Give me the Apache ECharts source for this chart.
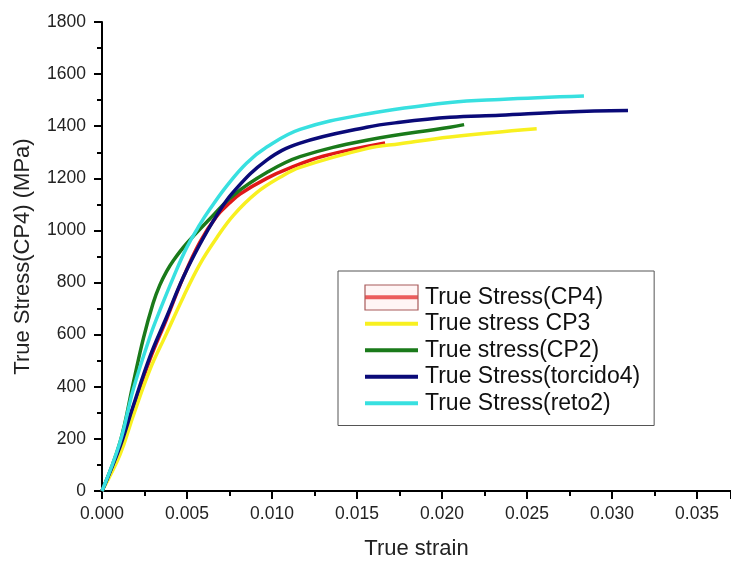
<!DOCTYPE html>
<html>
<head>
<meta charset="utf-8">
<script src="https://cdn.jsdelivr.net/npm/echarts@6/dist/echarts.min.js"></script>
<style>
    html, body { margin: 0; padding: 0; background: #fff; }
    #chart { width: 731px; height: 565px; }
</style>
</head>
<body>
<div id="chart"></div>
<script>
    // [strain, stress MPa]
    const cp4 = [[0, 0], [0.00106, 165], [0.00184, 320], [0.00282, 505], [0.0038, 660], [0.00478, 820],
        [0.00576, 955], [0.00675, 1055], [0.0075, 1105], [0.00812, 1140], [0.00969, 1200], [0.01106, 1240],
        [0.013, 1285], [0.01665, 1336]];
    const cp3 = [[0, 0], [0.00106, 140], [0.00184, 289], [0.00282, 466], [0.0038, 605], [0.00478, 744],
        [0.00576, 871], [0.00675, 972], [0.00773, 1058], [0.0091, 1145], [0.0105, 1205], [0.01165, 1242],
        [0.01557, 1314], [0.01753, 1333], [0.02047, 1359], [0.02557, 1390]];
    const cp2 = [[0, 0], [0.00106, 187], [0.00184, 415], [0.00243, 585], [0.003, 720], [0.0034, 790],
        [0.0038, 843], [0.0042, 885], [0.00498, 950], [0.00635, 1045], [0.00773, 1135], [0.00969, 1222],
        [0.01165, 1283], [0.01557, 1346], [0.02047, 1396], [0.0213, 1406]];
    const torcido4 = [[0, 0], [0.00106, 170], [0.00184, 327], [0.00282, 516], [0.0038, 668], [0.00478, 820],
        [0.00576, 947], [0.00675, 1058], [0.00773, 1148], [0.00969, 1270], [0.01165, 1335], [0.01557, 1396],
        [0.01753, 1415], [0.02047, 1434], [0.02341, 1442], [0.02733, 1455], [0.03094, 1460]];
    const reto2 = [[0, 0], [0.00106, 187], [0.00184, 390], [0.00282, 592], [0.00341, 694], [0.0042, 820],
        [0.00498, 934], [0.00576, 1023], [0.00635, 1082], [0.00733, 1170], [0.00850, 1258], [0.00969, 1320],
        [0.01165, 1388], [0.01557, 1447], [0.02047, 1491], [0.02341, 1503], [0.02835, 1516]];

    const names = ['True Stress(CP4)', 'True stress CP3', 'True stress(CP2)', 'True Stress(torcido4)', 'True Stress(reto2)'];
    const colors = ['#e01818', '#f8f020', '#1a7a1a', '#0a0a78', '#38e0e0'];
    const datasets = [cp4, cp3, cp2, torcido4, reto2];

    const font = 'Liberation Sans, Arial, sans-serif';

    let chart = echarts.init(document.getElementById('chart'));
    chart.setOption({
        animation: false,
        grid: { left: 102, top: 22, right: 0, bottom: 69 },
        legend: {
            orient: 'vertical',
            left: 338,
            top: 271,
            padding: [13, 14, 9, 27],
            borderColor: '#555',
            borderWidth: 1,
            icon: 'rect',
            itemWidth: 53,
            itemHeight: 4,
            itemGap: 0,
            selectedMode: false,
            textStyle: { fontFamily: font, fontSize: 23, color: '#111', lineHeight: 26.5, padding: [0, 0, 0, 2] },
            data: names
        },
        xAxis: [{
            type: 'value',
            min: 0,
            max: 0.037,
            interval: 0.005,
            name: 'True strain',
            nameLocation: 'middle',
            nameGap: 47,
            nameTextStyle: { fontFamily: font, fontSize: 22, color: '#222' },
            axisLine: { onZero: false, lineStyle: { color: '#000', width: 2 } },
            axisTick: { length: 8, lineStyle: { width: 2, color: '#000' } },
            minorTick: { show: true, splitNumber: 2, length: 5, lineStyle: { width: 2, color: '#000' } },
            axisLabel: {
                margin: 14, fontFamily: font, fontSize: 17.5, color: '#222', showMaxLabel: false,
                formatter: v => v.toFixed(3)
            },
            splitLine: { show: false }
        }, {
            type: 'value',
            position: 'top',
            min: 0,
            max: 0.037,
            axisLine: { show: true, lineStyle: { color: '#000', width: 2 } },
            axisTick: { show: false },
            axisLabel: { show: false },
            splitLine: { show: false }
        }],
        yAxis: {
            type: 'value',
            min: 0,
            max: 1800,
            interval: 200,
            name: 'True Stress(CP4) (MPa)',
            nameLocation: 'middle',
            nameGap: 68,
            nameTextStyle: { fontFamily: font, fontSize: 22, color: '#222' },
            axisLine: { show: true, onZero: false, lineStyle: { color: '#000', width: 2 } },
            axisTick: { length: 8, lineStyle: { width: 2, color: '#000' } },
            minorTick: { show: true, splitNumber: 2, length: 5, lineStyle: { width: 2, color: '#000' } },
            axisLabel: { margin: 16, fontFamily: font, fontSize: 17.5, color: '#222', formatter: v => String(v) },
            splitLine: { show: false }
        },
        graphic: [{
            // selection box Origin draws round the first legend entry
            type: 'rect',
            shape: { x: 365, y: 285, width: 53, height: 25 },
            style: { fill: 'rgba(255,225,225,0.35)', stroke: '#a85a5a', lineWidth: 1.2 },
            z: 100
        }],
        series: datasets.map((d, i) => ({
            name: names[i],
            type: 'line',
            data: d,
            smooth: 0.4,
            symbol: 'none',
            color: colors[i],
            lineStyle: { width: 3.5, color: colors[i] }
        }))
    });
</script>
</body>
</html>
